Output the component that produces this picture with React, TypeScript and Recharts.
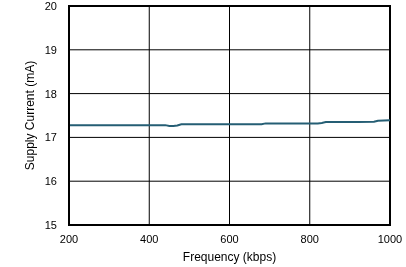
import React from 'react';
import { LineChart, Line, XAxis, YAxis, CartesianGrid, ReferenceArea } from 'recharts';

const frequencies = [200, 240, 280, 320, 360, 400, 440, 450, 460, 470, 480, 520, 560, 600, 640, 680, 690, 720, 760, 800, 820, 830, 840, 880, 920, 960, 970, 1000];
const supplyCurrent = [17.28, 17.28, 17.28, 17.28, 17.28, 17.28, 17.28, 17.26, 17.26, 17.27, 17.30, 17.30, 17.30, 17.30, 17.30, 17.30, 17.32, 17.32, 17.32, 17.32, 17.32, 17.33, 17.35, 17.35, 17.35, 17.36, 17.38, 17.39];
const xTicks = [200, 400, 600, 800, 1000];
const yTicks = [15, 16, 17, 18, 19, 20];

const data = frequencies.map((f, i) => ({ f, v: supplyCurrent[i] }));

const font = { fontFamily: '"Liberation Sans", Arial, sans-serif', fontSize: 11, fill: '#000' };
const titleFont = { ...font, fontSize: 12 };

export default function App() {
  return (
    <div style={{ position: 'fixed', left: 0, top: 0 }}>
      <LineChart width={406} height={267} data={data} margin={{ top: 6, right: 16, bottom: 0, left: 0 }}>
        <CartesianGrid stroke="#000" strokeWidth={1} />
        <XAxis
          dataKey="f"
          type="number"
          domain={[200, 1000]}
          ticks={xTicks}
          tickSize={0}
          tickMargin={10}
          height={42}
          axisLine={{ stroke: '#000', strokeWidth: 2 }}
          tick={font}
          label={{ value: 'Frequency (kbps)', position: 'insideBottom', offset: 6, style: titleFont }}
        />
        <YAxis
          type="number"
          domain={[15, 20]}
          ticks={yTicks}
          tickSize={0}
          tickMargin={12}
          width={69}
          axisLine={{ stroke: '#000', strokeWidth: 2 }}
          tick={font}
          label={{ value: 'Supply Current (mA)', angle: -90, position: 'insideLeft', offset: 30, style: { ...titleFont, textAnchor: 'middle' } }}
        />
        <ReferenceArea x1={200} x2={1000} y1={15} y2={20} fill="none" stroke="#000" strokeWidth={2} fillOpacity={0} />
        <Line type="linear" dataKey="v" stroke="#255e74" strokeWidth={2} dot={false} isAnimationActive={false} />
      </LineChart>
    </div>
  );
}
